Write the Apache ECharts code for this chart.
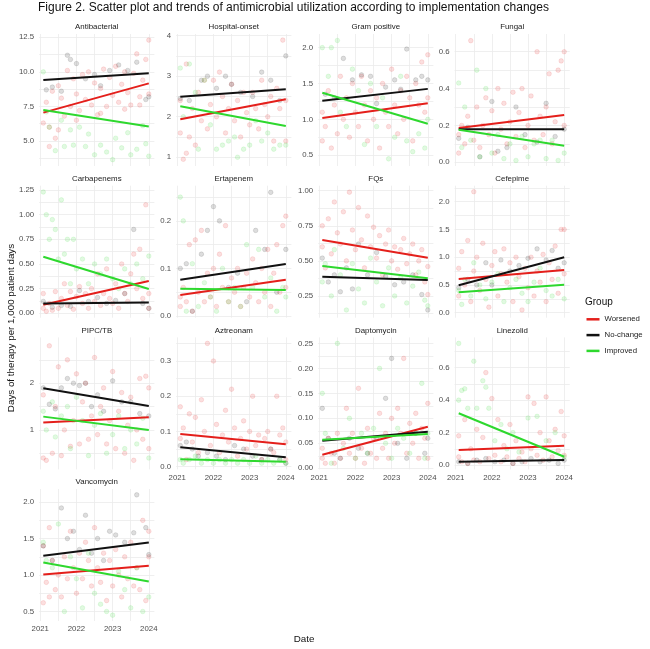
<!DOCTYPE html>
<html>
<head>
<meta charset="utf-8">
<script src="https://cdn.jsdelivr.net/npm/echarts@6/dist/echarts.min.js"></script>
<style>
  html, body { margin: 0; padding: 0; background: #fff; }
  #chart { width: 650px; height: 649px; }
</style>
</head>
<body>
<div id="chart"></div>
<script>
// panels, in facet order
var panelNames = ['Antibacterial', 'Hospital-onset', 'Gram positive', 'Fungal',
  'Carbapenems', 'Ertapenem', 'FQs', 'Cefepime',
  'PIPC/TB', 'Aztreonam', 'Daptomycin', 'Linezolid', 'Vancomycin'];
var groups = ['Worsened', 'No-change', 'Improved'];
var groupColors = ['#E41F1B', '#111111', '#2ED82E'];

var yearTicks = [2021, 2022, 2023, 2024];
// y tick labels per panel
var yTicks = [
  [5, 7.5, 10, 12.5], [1, 2, 3, 4], [0.5, 1, 1.5, 2], [0, 0.2, 0.4, 0.6],
  [0, 0.25, 0.5, 0.75, 1, 1.25], [0, 0.1, 0.2], [0.25, 0.5, 0.75, 1], [0, 0.5, 1, 1.5, 2],
  [1, 2], [0, 0.1, 0.2, 0.3], [0, 0.05, 0.1, 0.15, 0.2, 0.25], [0, 0.2, 0.4, 0.6],
  [0.5, 1, 1.5, 2]
];
var yDigits = [1, 0, 1, 1, 2, 1, 2, 1, 0, 1, 2, 1, 1];

// fitted trend at start (Feb 2021) and end (Jan 2024): [Worsened, No-change, Improved]
var trendStart = [
  [7.05, 9.41, 7.24], [1.94, 2.49, 2.26], [1.02, 1.26, 1.37], [0.186, 0.18, 0.177],
  [0.087, 0.10, 0.573], [0.044, 0.076, 0.0575], [0.649, 0.387, 0.464], [0.607, 0.494, 0.367],
  [1.16, 1.89, 1.285], [0.093, 0.055, 0.021], [0.027, 0.055, 0.057], [0.093, 0.02, 0.319],
  [1.008, 1.264, 1.173]
];
var trendEnd = [
  [9.17, 9.9, 6.04], [2.43, 2.68, 1.77], [1.226, 1.425, 0.94], [0.256, 0.18, 0.09],
  [0.327, 0.11, 0.246], [0.076, 0.1095, 0.0547], [0.523, 0.364, 0.376], [0.77, 0.998, 0.505],
  [1.27, 1.51, 1.0], [0.0636, 0.0267, 0.014], [0.083, 0.073, 0.0686], [0.119, 0.031, 0.051],
  [1.127, 1.447, 0.912]
];

// monthly points: [month since Jan 2021, DOT]
var worsenedPts = [
  [[1,6.3],[2,7.8],[3,6.0],[4,8.6],[5,5.2],[6,9.0],[7,8.1],[8,6.8],[9,10.1],[10,7.5],[11,9.5],[12,8.4],[13,7.2],[14,9.8],[15,8.0],[16,10.0],[17,7.6],[18,9.2],[19,6.9],[20,8.8],[21,10.2],[22,7.5],[23,9.6],[24,8.3],[25,10.4],[26,7.8],[27,9.1],[28,10.0],[29,8.5],[30,7.6],[31,9.9],[32,11.3],[33,8.2],[34,9.4],[35,10.9],[36,12.3],[3,4.6],[6,5.8],[12,6.5],[20,7.0],[28,7.3],[33,7.6],[36,8.4]],
  [[1,1.6],[1,2.4],[2,0.95],[3,1.1],[3,3.3],[4,1.5],[5,2.2],[6,1.3],[7,2.6],[8,1.9],[9,2.9],[10,1.7],[11,2.3],[12,2.9],[13,2.0],[14,3.1],[15,2.5],[16,1.6],[17,2.2],[18,2.8],[19,1.9],[20,2.4],[21,1.5],[22,2.6],[23,2.1],[24,1.8],[25,2.6],[26,2.2],[27,1.7],[28,2.9],[29,2.3],[30,2.0],[31,2.5],[32,1.4],[33,2.7],[34,2.2],[35,3.89],[36,2.4],[36,1.4]],
  [[1,1.1],[1,0.7],[2,0.9],[3,1.4],[4,0.6],[5,1.2],[6,0.8],[7,1.6],[8,1.0],[9,1.3],[10,0.75],[11,1.5],[12,1.1],[13,0.9],[14,1.6],[15,1.2],[16,0.7],[17,1.4],[18,1.0],[19,1.3],[20,0.6],[21,1.5],[22,1.1],[23,0.9],[24,1.7],[25,1.2],[26,0.8],[27,1.4],[28,1.0],[29,1.6],[30,1.3],[31,0.7],[32,1.5],[33,1.2],[34,1.8],[35,1.1],[36,1.9],[36,1.3]],
  [[1,0.15],[1,0.05],[2,0.2],[3,0.1],[4,0.25],[5,0.66],[6,0.12],[7,0.3],[8,0.08],[9,0.2],[10,0.35],[11,0.15],[12,0.28],[13,0.05],[14,0.4],[15,0.18],[16,0.32],[17,0.1],[18,0.22],[19,0.38],[20,0.14],[21,0.27],[22,0.4],[23,0.08],[24,0.2],[25,0.36],[26,0.12],[27,0.6],[28,0.25],[29,0.15],[30,0.3],[31,0.48],[32,0.1],[33,0.22],[34,0.5],[35,0.55],[36,0.6],[36,0.2]],
  [[1,0.05],[1,0.2],[2,0.02],[3,0.1],[4,0.03],[5,0.22],[6,0.05],[7,0.15],[8,0.3],[9,0.08],[10,0.22],[11,0.04],[12,0.17],[13,0.27],[14,0.1],[15,0.2],[16,0.05],[17,0.25],[18,0.12],[19,0.4],[20,0.08],[21,0.2],[22,0.45],[23,0.15],[24,0.1],[25,0.3],[26,0.05],[27,0.5],[28,0.2],[29,0.12],[30,0.4],[31,0.6],[32,0.25],[33,0.65],[34,0.15],[35,1.1],[36,0.2],[36,0.05]],
  [[1,0.02],[1,0.04],[2,0.06],[3,0.03],[4,0.15],[5,0.01],[6,0.16],[7,0.05],[8,0.18],[9,0.03],[10,0.09],[11,0.04],[12,0.1],[13,0.02],[14,0.13],[15,0.06],[16,0.19],[17,0.03],[18,0.08],[19,0.05],[20,0.1],[21,0.02],[22,0.06],[23,0.09],[24,0.04],[25,0.12],[26,0.07],[27,0.03],[28,0.1],[29,0.05],[30,0.14],[31,0.02],[32,0.09],[33,0.15],[34,0.05],[35,0.19],[36,0.21],[36,0.06]],
  [[1,0.6],[1,0.75],[2,0.45],[3,0.8],[4,0.55],[5,0.92],[6,0.7],[7,0.62],[8,0.85],[9,0.5],[10,0.99],[11,0.72],[12,0.58],[13,0.88],[14,0.65],[15,0.45],[16,0.82],[17,0.6],[18,0.74],[19,0.52],[20,0.68],[21,0.4],[22,0.62],[23,0.72],[24,0.5],[25,0.6],[26,0.44],[27,0.58],[28,0.66],[29,0.48],[30,0.55],[31,0.62],[32,0.4],[33,0.5],[34,0.58],[35,0.35],[36,0.46],[36,0.26]],
  [[1,0.8],[1,0.3],[2,1.1],[3,0.5],[4,1.3],[5,0.2],[6,0.75],[7,1.0],[8,0.4],[9,1.25],[10,0.6],[11,0.1],[12,0.85],[13,1.1],[14,0.3],[15,0.7],[16,1.15],[17,0.55],[18,0.9],[19,0.2],[20,1.0],[21,0.65],[22,0.05],[23,0.8],[24,0.45],[25,1.0],[26,0.3],[27,0.75],[28,0.55],[29,1.05],[30,0.2],[31,0.9],[32,0.6],[33,1.2],[34,0.35],[35,1.5],[36,0.7],[36,1.5],[6,2.18]],
  [[1,0.4],[1,1.75],[2,0.35],[3,2.8],[4,0.5],[5,1.5],[6,2.35],[7,0.45],[8,1.0],[9,2.5],[10,0.65],[11,1.2],[12,2.2],[13,0.7],[14,1.6],[15,2.0],[16,0.8],[17,1.3],[18,2.55],[19,0.9],[20,1.5],[21,1.9],[22,0.7],[23,1.2],[24,2.25],[25,0.6],[26,1.4],[27,1.8],[28,0.5],[29,1.1],[30,1.7],[31,0.35],[32,1.0],[33,2.1],[34,0.8],[35,2.15],[36,0.6],[36,1.9]],
  [[1,0.17],[1,0.08],[2,0.11],[3,0.02],[4,0.15],[5,0.07],[6,0.14],[7,0.04],[8,0.19],[9,0.1],[10,0.35],[11,0.06],[12,0.3],[13,0.12],[14,0.04],[15,0.09],[16,0.16],[17,0.07],[18,0.22],[19,0.11],[20,0.03],[21,0.08],[22,0.13],[23,0.05],[24,0.1],[25,0.2],[26,0.06],[27,0.09],[28,0.02],[29,0.08],[30,0.1],[31,0.05],[32,0.04],[33,0.2],[34,0.09],[35,0.11],[36,0.07],[36,0.02]],
  [[1,0.02],[1,0.04],[2,0.01],[3,0.06],[4,0.03],[5,0.01],[6,0.07],[7,0.02],[8,0.05],[9,0.12],[10,0.03],[11,0.07],[12,0.02],[13,0.16],[14,0.04],[15,0.01],[16,0.08],[17,0.03],[18,0.06],[19,0.02],[20,0.11],[21,0.04],[22,0.07],[23,0.02],[24,0.1],[25,0.05],[26,0.12],[27,0.07],[28,0.22],[29,0.03],[30,0.09],[31,0.05],[32,0.11],[33,0.02],[34,0.08],[35,0.06],[36,0.13],[36,0.02]],
  [[1,0.05],[1,0.18],[2,0.02],[3,0.28],[4,0.01],[5,0.1],[6,0.03],[7,0.22],[8,0.02],[9,0.17],[10,0.57],[11,0.04],[12,0.41],[13,0.06],[14,0.28],[15,0.02],[16,0.12],[17,0.05],[18,0.25],[19,0.01],[20,0.15],[21,0.04],[22,0.08],[23,0.02],[24,0.42],[25,0.1],[26,0.38],[27,0.06],[28,0.2],[29,0.03],[30,0.42],[31,0.15],[32,0.05],[33,0.22],[34,0.09],[35,0.33],[36,0.18],[36,0.06]],
  [[1,0.62],[1,1.4],[2,0.9],[3,0.7],[3,1.65],[4,1.2],[5,0.8],[6,1.0],[7,0.7],[8,1.25],[9,0.95],[10,1.6],[11,1.1],[12,0.75],[13,1.3],[14,0.95],[15,1.45],[16,1.2],[17,0.85],[18,1.65],[19,1.1],[20,0.9],[21,1.3],[22,0.65],[23,1.2],[24,0.85],[25,1.35],[26,1.0],[27,0.7],[28,1.25],[29,0.95],[30,1.45],[31,0.85],[32,1.1],[33,0.8],[34,1.75],[35,0.65],[36,1.6],[36,1.25]]
];
var noChangePts = [
  [[2,8.7],[4,8.9],[7,8.6],[9,11.2],[10,10.9],[12,10.6],[15,9.5],[18,9.8],[20,9.0],[23,10.1],[26,10.5],[29,10.1],[32,10.7],[35,8.0],[36,8.2]],
  [[1,2.45],[4,2.4],[8,2.9],[10,3.0],[13,2.7],[16,3.0],[18,2.8],[21,2.6],[25,2.5],[28,3.1],[31,2.9],[34,2.4],[36,3.5]],
  [[2,1.35],[5,1.3],[8,1.85],[11,1.55],[14,1.62],[17,1.6],[19,1.22],[22,1.45],[25,1.55],[27,1.42],[29,1.98],[32,1.55],[34,1.6],[36,1.55]],
  [[1,0.13],[4,0.19],[8,0.03],[12,0.33],[14,0.06],[17,0.08],[20,0.3],[23,0.15],[27,0.11],[30,0.32],[33,0.14],[36,0.18]],
  [[1,0.12],[4,0.06],[7,0.08],[10,0.07],[13,0.23],[16,0.12],[19,0.16],[22,0.1],[25,0.13],[28,0.2],[31,0.85],[34,0.1],[36,0.05]],
  [[1,0.1],[3,0.11],[5,0.01],[8,0.13],[10,0.18],[12,0.23],[14,0.2],[17,0.06],[20,0.09],[23,0.03],[26,0.18],[29,0.14],[31,0.26],[33,0.05],[36,0.14]],
  [[1,0.52],[3,0.35],[5,0.4],[7,0.28],[9,0.45],[11,0.3],[13,0.62],[16,0.4],[19,0.56],[22,0.39],[25,0.33],[28,0.35],[31,0.4],[34,0.26],[36,0.15]],
  [[1,0.45],[4,0.6],[7,0.5],[10,0.9],[12,0.5],[15,0.95],[18,0.75],[21,0.85],[24,0.98],[27,1.15],[30,0.95],[32,1.12],[34,0.8],[36,0.9]],
  [[1,1.9],[3,1.55],[5,1.45],[7,1.9],[9,2.1],[11,2.0],[13,1.95],[15,2.0],[17,1.5],[19,1.75],[21,1.4],[24,2.05],[27,1.6],[30,1.6],[33,1.35],[36,1.3]],
  [[1,0.06],[3,0.07],[5,0.05],[7,0.03],[10,0.04],[13,0.03],[16,0.02],[19,0.06],[22,0.05],[25,0.03],[28,0.02],[31,0.05],[34,0.02],[36,0.01]],
  [[1,0.12],[3,0.06],[5,0.03],[7,0.02],[10,0.06],[13,0.04],[16,0.03],[19,0.06],[22,0.14],[24,0.22],[26,0.05],[29,0.02],[32,0.07],[35,0.03],[36,0.06]],
  [[1,0.02],[4,0.01],[7,0.03],[10,0.04],[13,0.02],[16,0.03],[19,0.01],[22,0.02],[25,0.04],[28,0.02],[31,0.03],[34,0.01],[36,0.03]],
  [[1,1.4],[4,1.2],[7,1.92],[9,1.5],[11,1.6],[13,1.35],[15,1.82],[17,1.3],[19,1.5],[21,1.2],[23,1.6],[25,1.55],[28,1.45],[31,1.58],[32,2.1],[35,1.65],[36,1.28]]
];
var improvedPts = [
  [[1,10.0],[2,7.1],[3,6.0],[5,4.3],[7,6.5],[8,4.6],[10,5.8],[11,4.7],[13,6.0],[15,4.6],[16,5.5],[18,4.0],[20,4.7],[22,4.2],[24,3.65],[25,5.2],[27,4.5],[29,5.6],[30,4.0],[32,4.4],[34,6.1],[35,4.8],[36,3.9]],
  [[1,3.2],[2,2.0],[4,3.3],[6,2.6],[7,1.2],[9,2.9],[11,1.8],[13,1.2],[15,1.3],[17,1.4],[19,1.5],[20,1.0],[22,1.2],[24,1.3],[26,1.9],[28,1.4],[30,1.6],[32,1.2],[34,1.3],[36,1.3]],
  [[1,2.0],[3,1.6],[4,2.0],[6,2.1],[7,1.1],[9,0.9],[11,1.7],[13,1.4],[15,0.65],[17,1.5],[19,0.9],[21,1.3],[23,0.45],[25,0.75],[27,1.6],[29,0.7],[31,0.55],[33,0.8],[35,0.6],[36,1.0]],
  [[1,0.43],[2,0.08],[3,0.3],[5,0.12],[7,0.5],[8,0.03],[10,0.4],[12,0.05],[14,0.15],[16,0.02],[18,0.1],[20,0.01],[22,0.14],[24,0.03],[26,0.1],[28,0.12],[30,0.02],[32,0.12],[34,0.01],[36,0.05]],
  [[1,1.23],[2,1.0],[3,0.75],[4,0.95],[5,0.85],[6,0.55],[7,1.15],[8,0.6],[9,0.75],[10,0.3],[11,0.75],[12,0.45],[14,0.55],[16,0.3],[18,0.5],[20,0.4],[22,0.55],[24,0.35],[26,0.25],[28,0.45],[30,0.3],[32,0.5],[34,0.35],[36,0.58]],
  [[1,0.25],[2,0.2],[3,0.01],[5,0.11],[7,0.02],[9,0.07],[11,0.04],[13,0.01],[15,0.1],[17,0.03],[19,0.06],[21,0.02],[23,0.15],[25,0.06],[27,0.14],[29,0.04],[31,0.08],[33,0.01],[35,0.06],[36,0.04]],
  [[1,0.35],[2,0.48],[4,0.25],[5,0.58],[7,0.4],[9,0.15],[11,0.48],[13,0.3],[15,0.2],[17,0.52],[19,0.35],[21,0.18],[23,0.45],[25,0.25],[27,0.38],[29,0.2],[31,0.32],[33,0.42],[35,0.22],[36,0.18]],
  [[1,0.4],[2,0.15],[3,0.6],[5,0.3],[6,0.9],[8,0.5],[10,0.25],[12,0.55],[14,0.7],[16,0.2],[18,0.45],[20,0.6],[22,0.35],[24,0.2],[26,0.55],[28,0.8],[30,0.4],[32,0.3],[34,0.6],[36,0.25]],
  [[1,1.4],[2,1.0],[4,1.6],[5,0.85],[7,1.3],[9,1.5],[10,0.6],[12,1.7],[14,1.2],[16,0.45],[18,1.1],[20,1.35],[22,0.5],[24,0.9],[26,1.3],[28,0.6],[30,1.0],[32,0.7],[34,1.25],[36,0.4]],
  [[1,0.02],[2,0.01],[4,0.02],[6,0.03],[8,0.01],[10,0.02],[12,0.01],[14,0.02],[16,0.01],[18,0.02],[20,0.01],[22,0.02],[24,0.01],[26,0.03],[28,0.01],[30,0.02],[32,0.01],[34,0.02],[36,0.01]],
  [[1,0.15],[2,0.07],[4,0.01],[6,0.25],[8,0.04],[10,0.1],[12,0.02],[14,0.07],[16,0.03],[18,0.08],[20,0.2],[22,0.05],[24,0.02],[26,0.08],[28,0.06],[30,0.03],[32,0.07],[34,0.17],[35,0.02],[36,0.07]],
  [[1,0.75],[1,0.4],[2,0.46],[3,0.47],[4,0.35],[6,0.64],[7,0.35],[9,0.52],[10,0.48],[11,0.35],[13,0.15],[15,0.25],[17,0.1],[19,0.2],[21,0.08],[24,0.29],[27,0.3],[30,0.15],[33,0.2],[36,0.05]],
  [[1,1.45],[2,1.2],[4,1.1],[6,1.7],[8,0.5],[10,1.25],[12,0.95],[14,0.55],[16,1.3],[18,0.75],[20,0.6],[22,0.5],[24,0.45],[26,1.05],[28,0.8],[30,0.55],[32,1.1],[34,0.5],[36,0.7]]
];
var groupPts = [worsenedPts, noChangePts, improvedPts];

// layout of the facet grid (pixels)
var colLeft = [39.2, 176.2, 318.2, 454.6];
var rowTop = [34, 185.7, 337.4, 489];
var PW = 115.2, PH = 132;
var xMin = 2020.97, xMax = 2024.155;
var yRange = [[3.19, 12.74], [0.785, 4.04], [0.35, 2.19], [-0.02, 0.696],
  [-0.045, 1.294], [-0.0036, 0.274], [0.095, 1.036], [-0.09, 2.288],
  [0.156, 2.98], [-0.0077, 0.367], [-0.0022, 0.262], [-0.027, 0.787],
  [0.37, 2.18]];

function toX(m) { return 2021 + m / 12; }

// major + minor grid positions
function gridVals(maj, lo, hi) {
  var out = maj.slice();
  var step = maj.length > 1 ? maj[1] - maj[0] : 1;
  for (var k = 0; k < maj.length - 1; k++) out.push((maj[k] + maj[k + 1]) / 2);
  if (maj[0] - step / 2 >= lo) out.push(maj[0] - step / 2);
  if (maj[maj.length - 1] + step / 2 <= hi) out.push(maj[maj.length - 1] + step / 2);
  return out;
}

var chart = echarts.init(document.getElementById('chart'), null, { renderer: 'canvas' });

var FONT = 'Liberation Sans';
var grids = [], xAxes = [], yAxes = [], series = [];
var titles = [{
  text: 'Figure 2. Scatter plot and trends of antimicrobial utilization according to implementation changes',
  left: 38, top: 2, padding: 0,
  textStyle: { fontFamily: FONT, fontSize: 12, fontWeight: 'normal', color: '#111' }
}];
var gridLine = { show: true, lineStyle: { color: '#EBEBEB', width: 0.8 } };
var xGrid = [2021, 2021.5, 2022, 2022.5, 2023, 2023.5, 2024];

panelNames.forEach(function (name, i) {
  var col = i % 4, row = Math.floor(i / 4);
  var lo = yRange[i][0], hi = yRange[i][1];
  grids.push({ left: colLeft[col], top: rowTop[row], width: PW, height: PH });
  titles.push({
    text: name, left: colLeft[col] + PW / 2, top: rowTop[row] - 11, textAlign: 'center', padding: 0,
    textStyle: { fontFamily: FONT, fontSize: 7.9, fontWeight: 'normal', color: '#1a1a1a' }
  });
  xAxes.push({
    type: 'value', gridIndex: i, min: xMin, max: xMax,
    axisLine: { show: false },
    axisTick: { show: false, customValues: xGrid },
    splitLine: gridLine,
    axisLabel: {
      show: i >= 9, customValues: yearTicks, margin: 4,
      fontFamily: FONT, fontSize: 7.8, color: '#4D4D4D',
      formatter: function (v) { return String(Math.round(v)); }
    }
  });
  var dg = yDigits[i];
  yAxes.push({
    type: 'value', gridIndex: i, min: lo, max: hi,
    axisLine: { show: false },
    axisTick: { show: false, customValues: gridVals(yTicks[i], lo, hi) },
    splitLine: gridLine,
    axisLabel: {
      customValues: yTicks[i], margin: 5,
      fontFamily: FONT, fontSize: 7.8, color: '#4D4D4D',
      formatter: function (v) { return v.toFixed(dg); }
    }
  });
  groups.forEach(function (g, gi) {
    series.push({
      type: 'scatter', name: g + ' points', xAxisIndex: i, yAxisIndex: i, silent: true,
      data: groupPts[gi][i].map(function (p) { return [toX(p[0]), p[1]]; }),
      symbolSize: 4.6,
      itemStyle: { color: groupColors[gi], opacity: 0.14, borderColor: groupColors[gi], borderWidth: 0.8 },
      z: 2
    });
  });
  groups.forEach(function (g, gi) {
    series.push({
      type: 'line', name: g, xAxisIndex: i, yAxisIndex: i, silent: true,
      data: [[toX(1), trendStart[i][gi]], [toX(36), trendEnd[i][gi]]],
      showSymbol: false, symbol: 'none',
      lineStyle: { color: groupColors[gi], width: 2 },
      itemStyle: { color: groupColors[gi] },
      z: 5
    });
  });
});

titles.push({
  text: 'Date', left: 304, top: 634, textAlign: 'center', padding: 0,
  textStyle: { fontFamily: FONT, fontSize: 9.8, fontWeight: 'normal', color: '#111' }
});
titles.push({
  text: 'Group', left: 585, top: 297.5, padding: 0,
  textStyle: { fontFamily: FONT, fontSize: 10, fontWeight: 'normal', color: '#111' }
});

chart.setOption({
  animation: false,
  backgroundColor: '#fff',
  title: titles,
  grid: grids,
  xAxis: xAxes,
  yAxis: yAxes,
  legend: {
    data: groups, orient: 'vertical', left: 586.5, top: 315.3, padding: 0,
    icon: 'rect', itemWidth: 13, itemHeight: 2.5, itemGap: 7.8, selectedMode: false,
    textStyle: { fontFamily: FONT, fontSize: 7.8, color: '#222' }
  },
  graphic: [{
    type: 'text', rotation: Math.PI / 2,
    x: 11, y: 328,
    style: {
      text: 'Days of therapy per 1,000 patient days', fill: '#111',
      font: '9.8px "Liberation Sans"', align: 'center', verticalAlign: 'middle'
    }
  }],
  series: series
});
</script>
</body>
</html>
